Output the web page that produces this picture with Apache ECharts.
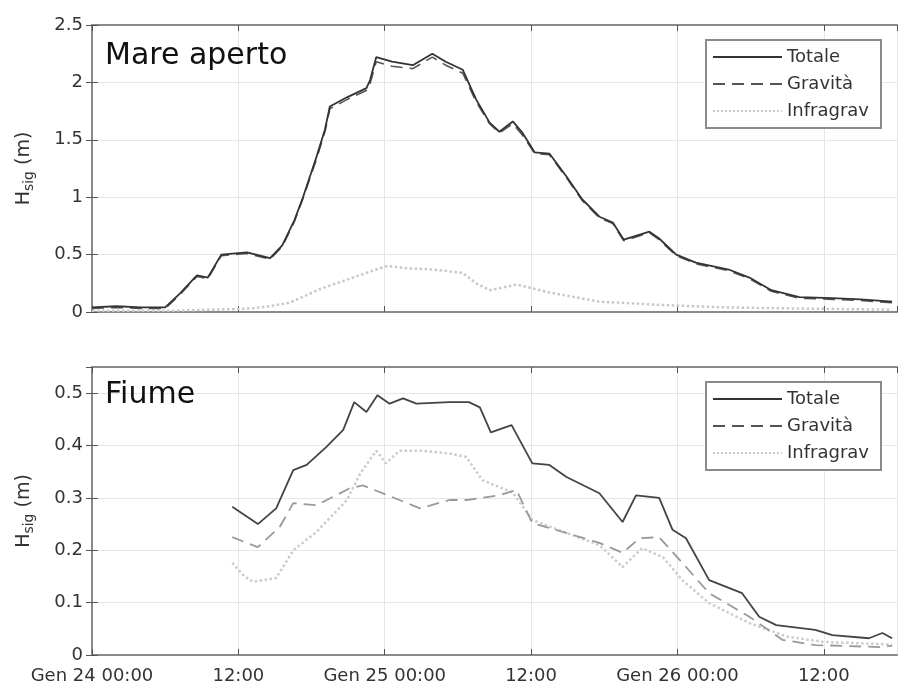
<!DOCTYPE html>
<html>
<head>
<meta charset="utf-8">
<script src="https://cdn.jsdelivr.net/npm/echarts@6/dist/echarts.min.js"></script>
<style>html,body{margin:0;padding:0;background:#fff}#c{width:900px;height:688px}</style>
</head>
<body>
<div id="c"></div>
<script>
// hours since Gen 24 00:00
var xTickLabels = {0:'Gen 24 00:00', 12:'12:00', 24:'Gen 25 00:00', 36:'12:00', 48:'Gen 26 00:00', 60:'12:00'};

// Mare aperto
var seaTotH = [0,2,4,6,7.2,8.6,9.5,10.6,12.7,14.6,15.6,16.6,17.3,18.4,19.1,19.5,20.9,22.5,22.8,23.3,24.6,26.3,27.9,29.0,30.4,31.5,32.6,33.4,34.5,35.3,36.3,37.5,38.9,40.2,41.6,42.7,43.6,45.7,46.5,47.9,49.5,52.2,53.9,55.7,58.0,60.7,63,65.6];
var seaTot  = [0.04,0.05,0.04,0.04,0.16,0.32,0.30,0.50,0.52,0.47,0.58,0.80,1.0,1.35,1.59,1.79,1.87,1.95,2.02,2.22,2.18,2.15,2.25,2.18,2.11,1.85,1.65,1.57,1.66,1.56,1.39,1.38,1.18,0.98,0.83,0.78,0.63,0.70,0.64,0.50,0.43,0.37,0.30,0.19,0.13,0.12,0.11,0.09];
var seaGra  = [0.03,0.04,0.03,0.03,0.15,0.31,0.29,0.49,0.51,0.46,0.57,0.79,0.99,1.33,1.57,1.77,1.85,1.93,1.99,2.18,2.14,2.12,2.22,2.15,2.08,1.83,1.64,1.56,1.64,1.54,1.38,1.37,1.17,0.97,0.82,0.77,0.62,0.69,0.63,0.49,0.42,0.36,0.29,0.18,0.12,0.11,0.10,0.08];
var seaIgH  = [0,6,10,13,14.5,16.2,18.7,21.4,23.3,24.2,26,28,30.4,31.5,32.6,34.0,34.8,37.5,41.6,47,52,58,65.6];
var seaIg   = [0.01,0.01,0.02,0.03,0.05,0.08,0.20,0.30,0.37,0.40,0.38,0.37,0.34,0.25,0.19,0.22,0.24,0.17,0.09,0.06,0.04,0.03,0.02];

// Fiume
var rivTotH = [11.5,13.6,15.1,16.5,17.6,19.2,20.6,21.5,22.5,23.4,24.4,25.5,26.6,29.3,30.9,31.8,32.7,34.4,36.1,37.5,38.9,41.6,43.5,44.6,46.5,47.6,48.7,50.6,53.3,54.7,56.1,59.3,60.7,63.7,64.8,65.6];
var rivTot  = [0.283,0.25,0.28,0.353,0.363,0.397,0.43,0.483,0.464,0.496,0.48,0.49,0.48,0.483,0.483,0.473,0.425,0.439,0.366,0.363,0.34,0.309,0.254,0.305,0.30,0.239,0.223,0.143,0.118,0.073,0.057,0.048,0.038,0.032,0.042,0.032];
var rivGraH = [11.5,13.6,15.4,16.5,18.4,21.1,22.2,25.2,26.9,29.3,30.7,33.4,34.8,36.1,38.9,41.6,43.5,44.9,46.5,48.4,50.6,53.9,56.6,59.3,64.8,65.6];
var rivGra  = [0.225,0.206,0.245,0.29,0.286,0.318,0.324,0.296,0.28,0.296,0.296,0.305,0.315,0.252,0.233,0.214,0.195,0.223,0.225,0.176,0.118,0.073,0.029,0.019,0.015,0.018];
var rivIgH  = [11.5,12.5,13.2,15.1,16.5,18.4,20.9,22.0,23.3,24.1,25.2,27,29.3,30.7,32,34.5,36.1,38.9,41.6,43.5,45.1,46.8,48.4,50.6,53.9,57,60,65.6];
var rivIg   = [0.176,0.15,0.14,0.147,0.2,0.235,0.296,0.347,0.39,0.366,0.39,0.39,0.385,0.378,0.334,0.31,0.258,0.233,0.21,0.168,0.204,0.187,0.143,0.099,0.061,0.035,0.025,0.02];

var seriesNames = ['Totale','Gravità','Infragrav'];

function pairs(h, v){ return h.map(function(x,i){ return [x, v[i]]; }); }

var FONT = 'DejaVu Sans, Verdana, sans-serif';
var axisCol = '#8a8a8a';
var txtCol = '#333';

function xAx(gi, pos, labels){
  return {
    type:'value', gridIndex:gi, position:pos, min:0, max:66, interval:12,
    axisLine:{show:true, onZero:false, lineStyle:{color:axisCol, width:2}},
    axisTick:{show:true, inside:true, length:6, lineStyle:{color:'#555'}},
    axisLabel:{show:labels, showMaxLabel:false, color:txtCol, fontFamily:FONT, fontSize:18, margin:12,
      formatter:function(v){ return xTickLabels[v] !== undefined ? xTickLabels[v] : ''; }},
    splitLine:{show:pos==='bottom', lineStyle:{color:'#e6e6e6'}}
  };
}
function yAx(gi, pos, max, interval, labels){
  return {
    type:'value', gridIndex:gi, position:pos, min:0, max:max, interval:interval,
    name: pos==='left' ? '{a|H}{b|sig}{a| (m)}' : '',
    nameLocation:'middle', nameGap:56, nameRotate:90,
    nameTextStyle:{rich:{a:{fontSize:19, fontFamily:FONT, color:txtCol}, b:{fontSize:14, fontFamily:FONT, color:txtCol, verticalAlign:'bottom', padding:[10,0,0,0]}}},
    axisLine:{show:true, lineStyle:{color:axisCol, width:2}},
    axisTick:{show:true, inside:true, length:6, lineStyle:{color:'#555'}},
    axisLabel:{show:labels, showMaxLabel: max===2.5, color:txtCol, fontFamily:FONT, fontSize:18, margin:9},
    splitLine:{show:pos==='left', lineStyle:{color:'#e6e6e6'}}
  };
}

function lineSeries(name, gi, data, color, type, width){
  return {
    name:name, type:'line', xAxisIndex:gi*2, yAxisIndex:gi*2, data:data,
    symbol:'none', smooth:false, animation:false,
    lineStyle:{color:color, type:type, width:width}, itemStyle:{color:color}
  };
}

function legendFor(top){
  return {
    orient:'vertical', left:706, top:top, data:seriesNames,
    itemWidth:69, itemHeight:14, itemGap:9, padding:[8,12,8,6],
    borderColor:'#8a8a8a', borderWidth:2, backgroundColor:'#fff',
    itemStyle:{opacity:0},
    textStyle:{fontFamily:FONT, fontSize:18, color:'#333'},
    selectedMode:false
  };
}

var chart = echarts.init(document.getElementById('c'));
chart.setOption({
  backgroundColor:'#fff',
  animation:false,
  title:[
    {text:'Mare aperto', left:100, top:36, textStyle:{fontFamily:FONT, fontSize:30, fontWeight:'normal', color:'#111'}},
    {text:'Fiume', left:100, top:375, textStyle:{fontFamily:FONT, fontSize:30, fontWeight:'normal', color:'#111'}}
  ],
  legend:[legendFor(40), legendFor(382)],
  grid:[
    {left:92, top:25, width:805, height:287},
    {left:92, top:367, width:805, height:288}
  ],
  xAxis:[xAx(0,'bottom',false), xAx(0,'top',false), xAx(1,'bottom',true), xAx(1,'top',false)],
  yAxis:[yAx(0,'left',2.5,0.5,true), yAx(0,'right',2.5,0.5,false), yAx(1,'left',0.55,0.1,true), yAx(1,'right',0.55,0.1,false)],
  series:[
    lineSeries('Infragrav',0,pairs(seaIgH,seaIg),'#c8c8c8','dotted',2.5),
    lineSeries('Gravità',0,pairs(seaTotH,seaGra),'#555',[12,7],1.6),
    lineSeries('Totale',0,pairs(seaTotH,seaTot),'#333','solid',1.8),
    lineSeries('Infragrav',1,pairs(rivIgH,rivIg),'#cccccc','dotted',2.5),
    lineSeries('Gravità',1,pairs(rivGraH,rivGra),'#999',[12,7],1.8),
    lineSeries('Totale',1,pairs(rivTotH,rivTot),'#444','solid',1.8)
  ]
});
</script>
</body>
</html>
